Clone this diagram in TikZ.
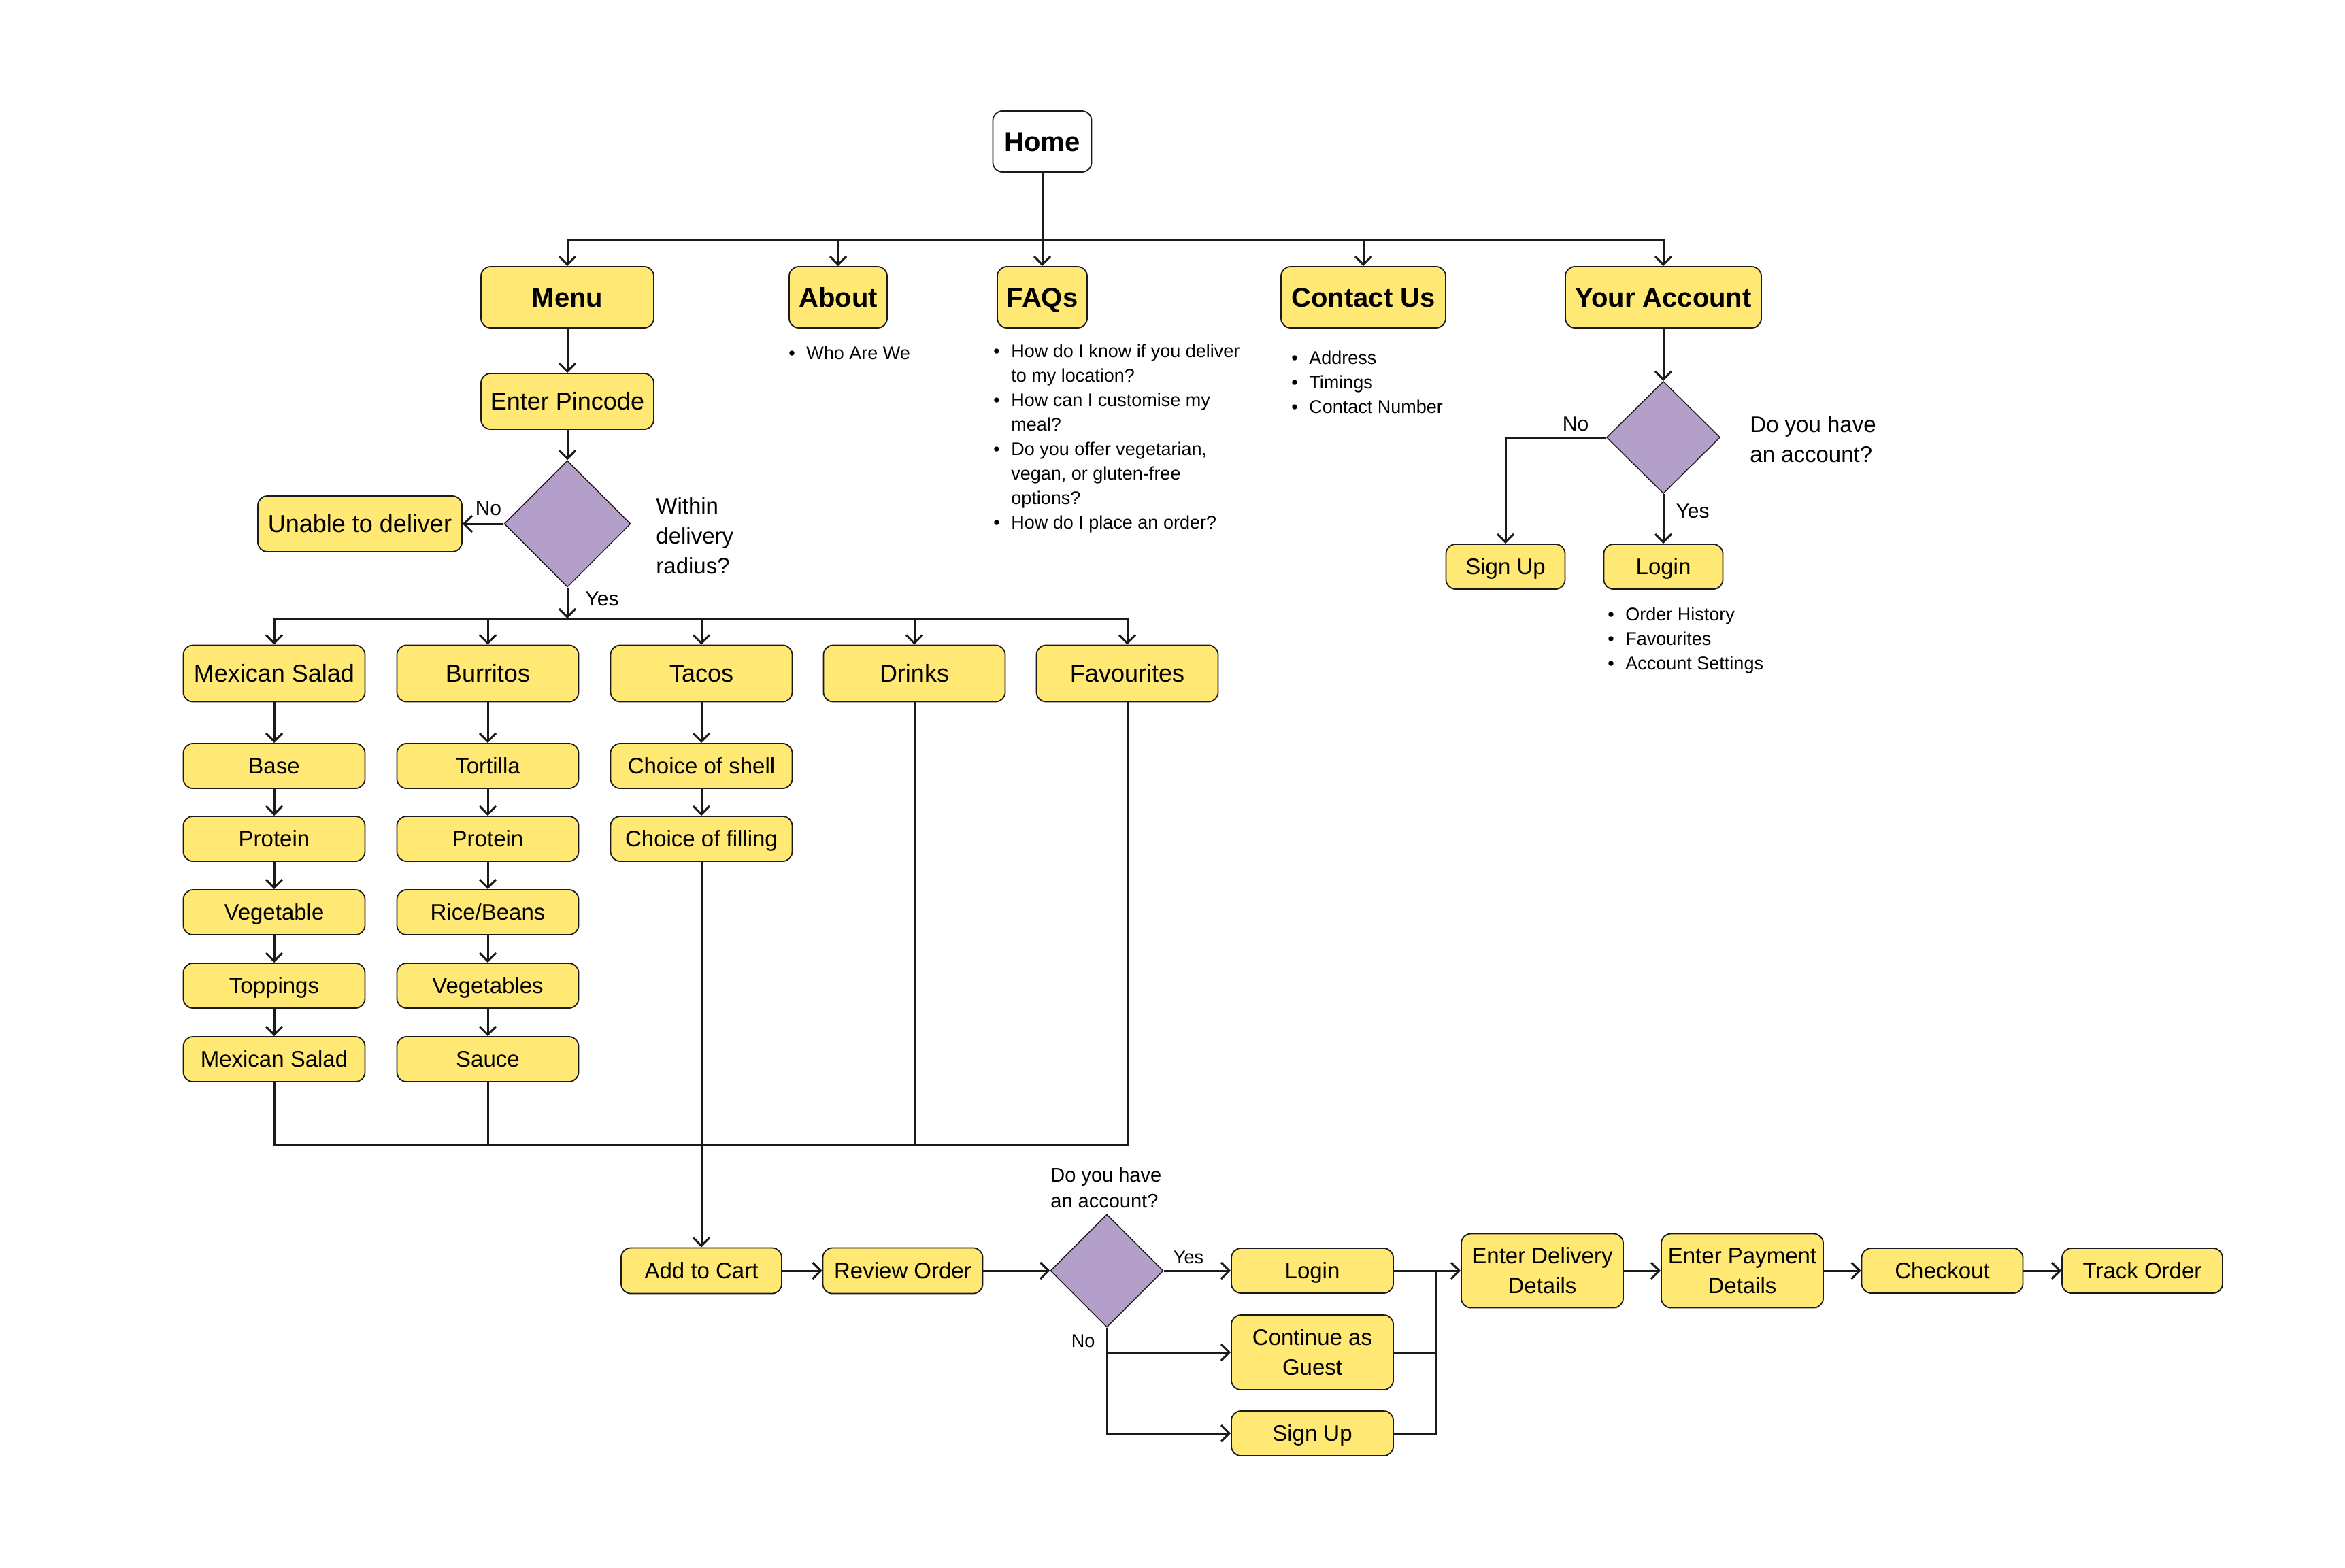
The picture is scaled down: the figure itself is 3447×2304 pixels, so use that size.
\documentclass[tikz,border=0pt]{standalone}
\usepackage{fontspec}
\setmainfont{Liberation Sans}
\usetikzlibrary{arrows.meta,shapes.geometric}
\definecolor{yel}{HTML}{FFE873}
\definecolor{pur}{HTML}{B49FCB}
\definecolor{linec}{HTML}{1A1A1A}
\newcommand\fsL{\fontsize{18}{22}\selectfont}
\newcommand\fsM{\fontsize{16.5}{22}\selectfont}
\newcommand\fsB{\fontsize{20}{24}\selectfont\bfseries}
\newcommand\fsList{\fontsize{13.5}{18}\selectfont}
\newcommand\fsQ{\fontsize{16.5}{22}\selectfont}
\newcommand\fsQs{\fontsize{14.5}{19}\selectfont}
\newcommand\fsLab{\fontsize{15}{18}\selectfont}
\newcommand\fsLabs{\fontsize{13.5}{16}\selectfont}
\newcommand\bul{\makebox[13pt][l]{\textbullet}}
\newcommand\ind{\hspace*{13pt}}
\tikzset{
  box/.style={draw=linec, fill=yel, rounded corners=7pt, line width=0.9pt, inner sep=0pt, align=center, font=\fsL, text height=16.2pt, text depth=3.3pt},
  sbox/.style={box, font=\fsM, text height=14.85pt, text depth=3.04pt},
  hbox/.style={box, font=\fsB, text height=18pt, text depth=3.7pt},
  two/.style={text height=, text depth=},
  sz/.style 2 args={minimum width=#1*0.5pt, minimum height=#2*0.5pt},
  dec/.style={diamond, draw=linec, fill=pur, line width=0.7pt, inner sep=0pt, aspect=1},
  conn/.style={draw=linec, line width=1.5pt},
  arr/.style={conn, -{Straight Barb[length=6pt,width=12pt]}},
  txt/.style={inner sep=0pt, align=left, anchor=west},
  lab/.style={inner sep=0pt, font=\fsLab},
  labs/.style={inner sep=0pt, font=\fsLabs}
}
\begin{document}
\begin{tikzpicture}[x=0.5pt,y=-0.5pt]
\fill[white] (0,0) rectangle (3447,2304);
\useasboundingbox (0,0) rectangle (3447,2304);

% top level
\node[hbox, sz={145}{90}, fill=white] (home) at (1532,208) {Home};
\node[hbox, sz={254}{90}] (menu) at (834,437) {Menu};
\node[hbox, sz={144}{90}] (about) at (1232,437) {About};
\node[hbox, sz={132}{90}] (faqs) at (1532,437) {FAQs};
\node[hbox, sz={242}{90}] (contact) at (2004,437) {Contact Us};
\node[hbox, sz={288}{90}] (account) at (2445,437) {Your Account};

% lists
\node[txt, font=\fsList] (whoList) at (1159,519) {\bul Who Are We};
\node[txt, font=\fsList] (faqList) at (1460,645) {\bul How do I know if you deliver\\\ind to my location?\\\bul How can I customise my\\\ind meal?\\\bul Do you offer vegetarian,\\\ind vegan, or gluten-free\\\ind options?\\\bul How do I place an order?};
\node[txt, font=\fsList] (contactList) at (1898,562) {\bul Address\\\bul Timings\\\bul Contact Number};

% menu branch
\node[box, sz={254}{82}] (pincode) at (834,590) {Enter Pincode};
\node[dec, sz={186}{186}] (d1) at (834,770) {};
\node[box, sz={300}{82}] (unable) at (529,770) {Unable to deliver};
\node[txt, font=\fsQ] (q1) at (964,788) {Within\\delivery\\radius?};
\node[lab] (no1) at (718,747) {No};
\node[lab] (yes1) at (885,880) {Yes};

% categories
\node[box, sz={267}{83}] (ms) at (403,990) {Mexican Salad};
\node[box, sz={267}{83}] (bur) at (717,990) {Burritos};
\node[box, sz={267}{83}] (tac) at (1031,990) {Tacos};
\node[box, sz={267}{83}] (dri) at (1344,990) {Drinks};
\node[box, sz={267}{83}] (fav) at (1657,990) {Favourites};

\node[sbox, sz={267}{66}] (a1) at (403,1126) {Base};
\node[sbox, sz={267}{66}] (a2) at (403,1233) {Protein};
\node[sbox, sz={267}{66}] (a3) at (403,1341) {Vegetable};
\node[sbox, sz={267}{66}] (a4) at (403,1449) {Toppings};
\node[sbox, sz={267}{66}] (a5) at (403,1557) {Mexican Salad};

\node[sbox, sz={267}{66}] (b1) at (717,1126) {Tortilla};
\node[sbox, sz={267}{66}] (b2) at (717,1233) {Protein};
\node[sbox, sz={267}{66}] (b3) at (717,1341) {Rice/Beans};
\node[sbox, sz={267}{66}] (b4) at (717,1449) {Vegetables};
\node[sbox, sz={267}{66}] (b5) at (717,1557) {Sauce};

\node[sbox, sz={267}{66}] (t1) at (1031,1126) {Choice of shell};
\node[sbox, sz={267}{66}] (t2) at (1031,1233) {Choice of filling};

% checkout flow
\node[sbox, sz={236}{67}] (add) at (1031,1868) {Add to Cart};
\node[sbox, sz={235}{67}] (review) at (1327,1868) {Review Order};
\node[dec, sz={166}{166}] (d3) at (1627,1868) {};
\node[txt, font=\fsQs] (q3) at (1544,1746) {Do you have\\an account?};
\node[labs] (yes3) at (1747,1848) {Yes};
\node[labs] (no3) at (1592,1971) {No};
\node[sbox, sz={238}{66}] (login2) at (1929,1868) {Login};
\node[sbox, two, sz={238}{110}] (guest) at (1929,1988) {Continue as\\Guest};
\node[sbox, sz={238}{66}] (signup2) at (1929,2107) {Sign Up};
\node[sbox, two, sz={238}{109}] (delivery) at (2267,1868) {Enter Delivery\\Details};
\node[sbox, two, sz={238}{109}] (payment) at (2561,1868) {Enter Payment\\Details};
\node[sbox, sz={237}{66}] (checkout) at (2855,1868) {Checkout};
\node[sbox, sz={236}{66}] (track) at (3149,1868) {Track Order};

% account branch
\node[dec, sz={167}{165}] (d2) at (2445,643) {};
\node[txt, font=\fsQ] (q2) at (2572,646) {Do you have\\an account?};
\node[lab] (no2) at (2316,623) {No};
\node[lab] (yes2) at (2488,751) {Yes};
\node[sbox, sz={175}{66}] (signup1) at (2213,833) {Sign Up};
\node[sbox, sz={175}{66}] (login1) at (2445,833) {Login};
\node[txt, font=\fsList] (loginList) at (2363,941) {\bul Order History\\\bul Favourites\\\bul Account Settings};

% connectors: top
\coordinate (bus1) at (1532,353);
\draw[arr] (home) -- (faqs);
\draw[arr] (bus1) -| (menu);
\draw[arr] (bus1) -| (about);
\draw[arr] (bus1) -| (contact);
\draw[arr] (bus1) -| (account);

% menu branch
\draw[arr] (menu) -- (pincode);
\draw[arr] (pincode) -- (d1);
\draw[arr] (d1) -- (unable);
\coordinate (bus2) at (834,909);
\draw[arr] (d1) -- (bus2);
\draw[conn] (ms |- bus2) -- (fav |- bus2);
\foreach \n in {ms,bur,tac,dri,fav} \draw[arr] (\n |- bus2) -- (\n);

\draw[arr] (ms) -- (a1);
\draw[arr] (a1) -- (a2);
\draw[arr] (a2) -- (a3);
\draw[arr] (a3) -- (a4);
\draw[arr] (a4) -- (a5);
\draw[arr] (bur) -- (b1);
\draw[arr] (b1) -- (b2);
\draw[arr] (b2) -- (b3);
\draw[arr] (b3) -- (b4);
\draw[arr] (b4) -- (b5);
\draw[arr] (tac) -- (t1);
\draw[arr] (t1) -- (t2);

\coordinate (bus3) at (1031,1683);
\draw[conn] (a5) -- (a5 |- bus3) -- (fav |- bus3) -- (fav);
\draw[conn] (b5) -- (b5 |- bus3);
\draw[conn] (dri) -- (dri |- bus3);
\draw[arr] (t2) -- (add);

% checkout flow
\draw[arr] (add) -- (review);
\draw[arr] (review) -- (d3);
\draw[arr] (d3) -- (login2);
\draw[arr] (d3.south) |- (signup2);
\draw[arr] (d3.south |- guest) -- (guest);
\coordinate (m4) at (2110,1868);
\draw[arr] (login2) -- (delivery);
\draw[conn] (guest) -| (m4);
\draw[conn] (signup2) -| (m4);
\draw[arr] (delivery) -- (payment);
\draw[arr] (payment) -- (checkout);
\draw[arr] (checkout) -- (track);

% account branch
\draw[arr] (account) -- (d2);
\draw[arr] (d2) -- (login1);
\draw[arr] (d2.west) -| (signup1);
\end{tikzpicture}
\end{document}
